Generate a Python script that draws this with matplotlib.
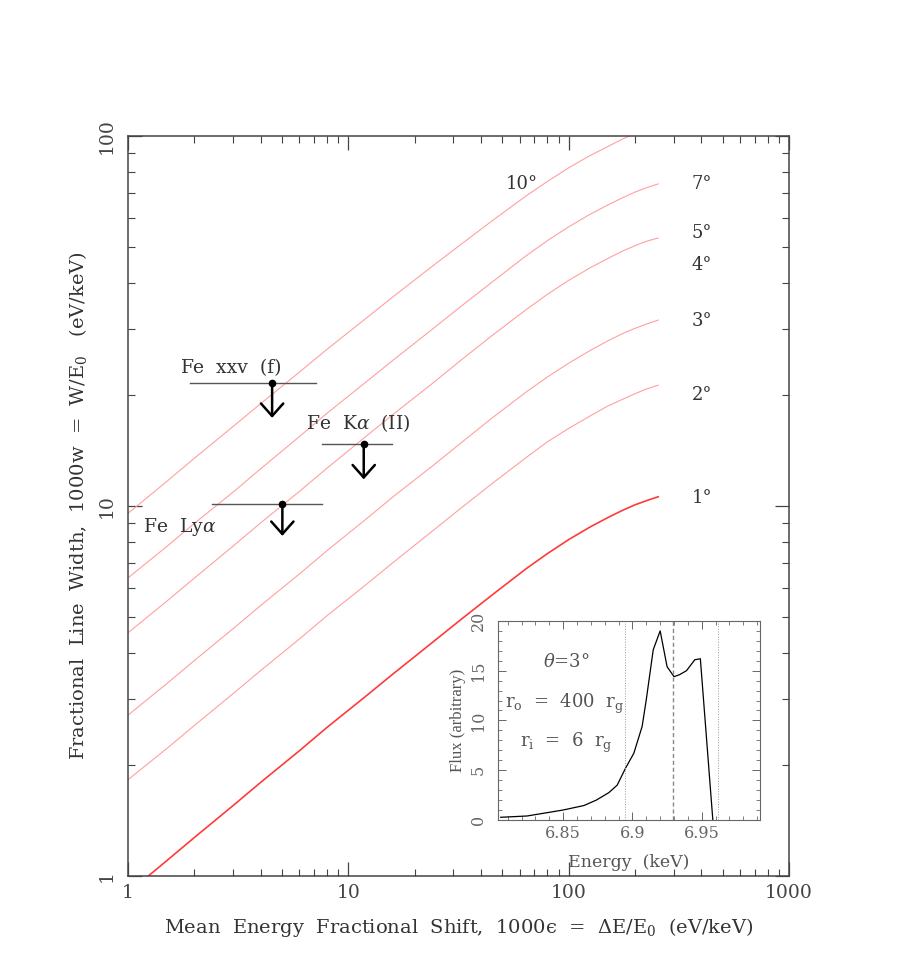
import matplotlib
matplotlib.use("Agg")
import matplotlib.pyplot as plt

plt.rcParams["font.family"] = ["DejaVu Serif"]
plt.rcParams["mathtext.fontset"] = "dejavuserif"

# ---- curves: mean shift (x) vs fractional width (y), one list per inclination ----
shift = [1, 1.5, 2, 3, 4, 6, 8, 12, 16, 24, 32, 45, 64, 80, 100, 125, 150, 175, 200, 225, 255]
width_1 = [0.90, 1.10, 1.27, 1.55, 1.79, 2.18, 2.52, 3.06, 3.52, 4.27, 4.90, 5.75, 6.76,
           7.43, 8.11, 8.77, 9.29, 9.72, 10.07, 10.33, 10.59]
width_2 = [1.82, 2.21, 2.55, 3.11, 3.59, 4.37, 5.05, 6.12, 7.04, 8.54, 9.8, 11.5, 13.5,
           14.9, 16.2, 17.5, 18.6, 19.4, 20.1, 20.7, 21.2]
width_3 = [2.72, 3.31, 3.82, 4.66, 5.38, 6.55, 7.57, 9.2, 10.6, 12.8, 14.7, 17.3, 20.3,
           22.3, 24.3, 26.3, 27.9, 29.2, 30.2, 31.0, 31.8]
width_5 = [4.54, 5.53, 6.38, 7.79, 9.0, 10.95, 12.65, 15.4, 17.7, 21.4, 24.6, 28.9, 33.9,
           37.3, 40.7, 44.0, 46.6, 48.8, 50.5, 51.9, 53.0]
width_7 = [6.39, 7.77, 8.97, 10.9, 12.6, 15.4, 17.8, 21.6, 24.8, 30.0, 34.4, 40.3, 47.4,
           52.1, 56.8, 61.4, 65.0, 68.0, 70.5, 72.4, 74.2]
width_10 = [9.55, 11.65, 13.45, 16.4, 18.9, 23.0, 26.5, 32.1, 36.8, 44.4, 50.6, 59.0, 68.8,
            75.3, 82.0, 88.5, 93.5, 98.0, 101.5, 104.0, 106.5]

# angle labels and where they sit
angle_labels = ["10°", "7°", "5°", "4°", "3°", "2°", "1°"]
angle_x = [52, 363, 363, 363, 363, 363, 363]
angle_y = [74.2, 74.2, 54.7, 44.8, 31.6, 19.9, 10.5]

# upper limits on observed lines
line_names = ["Fe  xxv  (f)", "Fe  K$\\alpha$  (II)", "Fe  Ly$\\alpha$"]
lim_x = [4.51, 11.75, 5.02]
lim_y = [21.5, 14.7, 10.1]
lim_xlo = [1.91, 7.62, 2.41]
lim_xhi = [7.16, 15.8, 7.62]
lim_tip = [17.3, 11.8, 8.3]
name_x = [1.74, 6.41, 1.17]
name_y = [23.6, 16.8, 8.75]

# inset line profile
energy = [6.805, 6.824, 6.850, 6.865, 6.874, 6.883, 6.889, 6.895, 6.901, 6.907,
          6.910, 6.915, 6.920, 6.925, 6.930, 6.934, 6.939, 6.945, 6.949, 6.958]
flux = [0.27, 0.4, 1.0, 1.45, 2.0, 2.75, 3.5, 5.2, 6.7, 9.4,
        12.1, 17.1, 19.0, 15.4, 14.4, 14.6, 15.0, 16.1, 16.2, 0.0]
dotted_e = [6.895, 6.962]
dashed_e = 6.929

# ---- main plot ----
fig = plt.figure(figsize=(9, 9.69), dpi=100)
ax = fig.add_axes([0.1422, 0.0960, 0.7344, 0.7637])

pink = "#ffa0a0"
for w in [width_2, width_3, width_5, width_7, width_10]:
    ax.plot(shift, w, color=pink, lw=0.8)
ax.plot(shift, width_1, color="#ff3a3a", lw=1.2)

ax.set_xscale("log")
ax.set_yscale("log")
ax.set_xlim(1, 1000)
ax.set_ylim(1, 100)

txt = "#333333"
for lab, x, y in zip(angle_labels, angle_x, angle_y):
    ax.text(x, y, lab, fontsize=13, color=txt, va="center", ha="left")

for i in range(len(lim_x)):
    ax.plot([lim_xlo[i], lim_xhi[i]], [lim_y[i], lim_y[i]], color="#555555", lw=1)
    ax.annotate("", xy=(lim_x[i], lim_tip[i]), xytext=(lim_x[i], lim_y[i]),
                arrowprops=dict(arrowstyle="->,head_length=0.45,head_width=0.4",
                                lw=1.8, color="black", shrinkA=0, shrinkB=0,
                                mutation_scale=20))
    ax.plot(lim_x[i], lim_y[i], "o", color="black", ms=4.5)
    ax.text(name_x[i], name_y[i], line_names[i], fontsize=13.5, color=txt,
            va="center", ha="left")

ax.set_xticks([1, 10, 100, 1000], labels=["1", "10", "100", "1000"])
ax.set_yticks([1, 10, 100], labels=["1", "10", "100"])
ax.tick_params(which="both", direction="in", top=True, right=True,
               colors="#444444", labelsize=13.5)
ax.tick_params(which="major", length=10, width=0.9)
ax.tick_params(which="minor", length=5, width=0.8)
ax.tick_params(axis="x", pad=6)
ax.tick_params(axis="y", pad=9)
plt.setp(ax.get_yticklabels(), rotation=90, va="center")
for s in ax.spines.values():
    s.set_color("#444444")
    s.set_linewidth(1.1)

ax.set_xlabel("Mean  Energy  Fractional  Shift,  1000ϵ  =  $\\Delta$E/E$_0$  (eV/keV)",
              fontsize=14, color=txt, labelpad=10)
ax.set_ylabel("Fractional  Line  Width,  1000w  =  W/E$_0$   (eV/keV)",
              fontsize=14, color=txt, labelpad=6)

# ---- inset ----
ins = fig.add_axes([0.5533, 0.1538, 0.2911, 0.2054])
ins.plot(energy, flux, color="black", lw=0.9)
for e in dotted_e:
    ins.axvline(e, color="#999999", lw=0.7, ls=":")
ins.axvline(dashed_e, color="#888888", lw=1.0, ls=(0, (3, 2)))
ins.set_xlim(6.803, 6.992)
ins.set_ylim(0, 20)
ins.set_xticks([6.85, 6.9, 6.95], labels=["6.85", "6.9", "6.95"])
ins.set_xticks([6.81, 6.82, 6.83, 6.84, 6.86, 6.87, 6.88, 6.89, 6.91, 6.92,
                6.93, 6.94, 6.96, 6.97, 6.98, 6.99], minor=True)
ins.set_yticks([0, 5, 10, 15, 20])
ins.set_yticks(range(21), minor=True)
ins.tick_params(which="both", direction="in", top=True, right=True,
                colors="#666666", labelsize=11.5)
ins.tick_params(which="major", length=6, width=0.7)
ins.tick_params(which="minor", length=3, width=0.6)
ins.tick_params(axis="y", pad=8)
plt.setp(ins.get_yticklabels(), rotation=90, va="center")
for s in ins.spines.values():
    s.set_color("#666666")
    s.set_linewidth(0.8)
gray = "#555555"
ins.set_xlabel("Energy  (keV)", fontsize=12.5, color=gray, labelpad=9)
ins.set_ylabel("Flux (arbitrary)", fontsize=12, color=gray,
               family="Liberation Serif", labelpad=3)
ins.text(6.8526, 15.9, "$\\theta$=3°", fontsize=13, color=gray, ha="center", va="center")
ins.text(6.8513, 11.7, "r$_\\mathrm{o}$  =  400  r$_\\mathrm{g}$", fontsize=13,
         color=gray, ha="center", va="center")
ins.text(6.8526, 7.7, "r$_\\mathrm{i}$  =  6  r$_\\mathrm{g}$", fontsize=13,
         color=gray, ha="center", va="center")

fig.savefig("out.png", dpi=100)
